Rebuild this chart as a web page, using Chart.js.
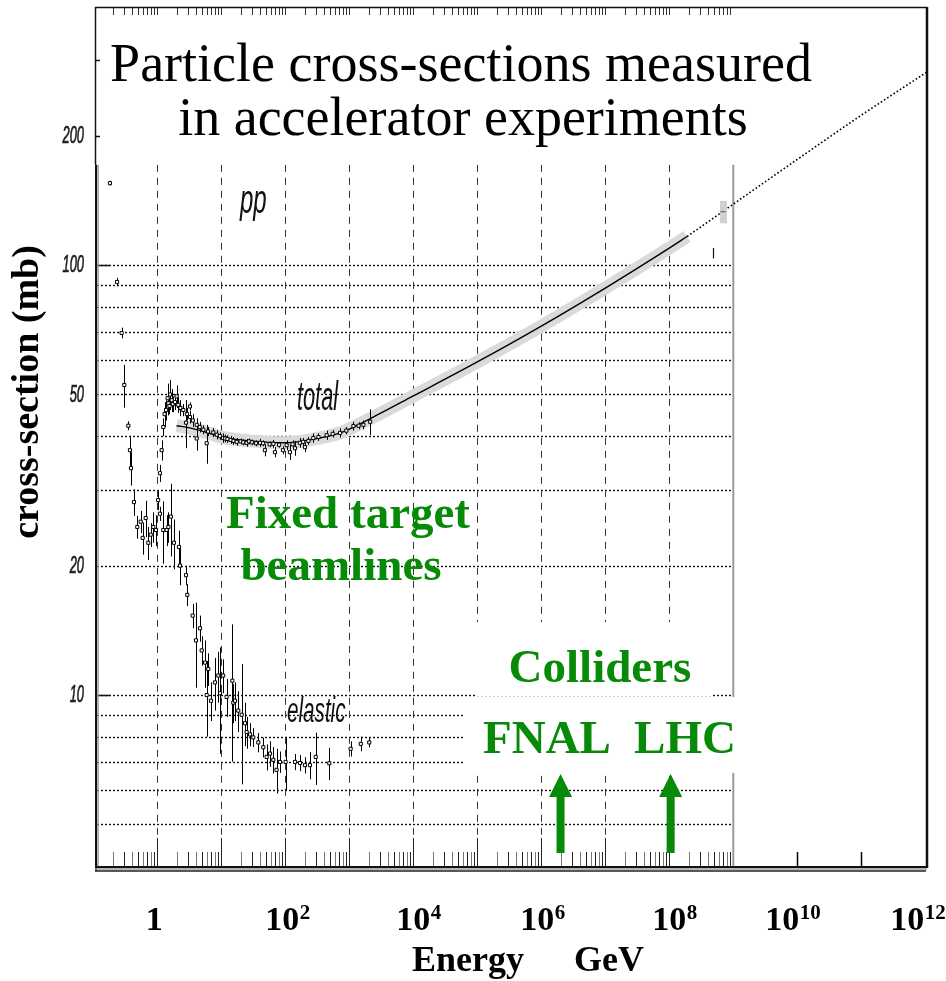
<!DOCTYPE html>
<html>
<head>
<meta charset="utf-8">
<script src="https://cdn.jsdelivr.net/npm/chart.js@4/dist/chart.umd.min.js"></script>
<style>
html,body{margin:0;padding:0;background:#fff;}
canvas{display:block;}
</style>
</head>
<body>
<canvas id="c" width="946" height="981"></canvas>
<script>
// ---------------- DATA ----------------
const titleLines = ["Particle cross-sections measured", "in accelerator experiments"];
const yAxisTitle = "cross-section (mb)";
const xAxisTitleWords = ["Energy", "GeV"];
const xTickExponents = [0, 2, 4, 6, 8, 10, 12];
const yTickValues = [10, 20, 50, 100, 200];
const gridYValues = [5, 6, 7, 8, 9, 10, 20, 30, 40, 50, 60, 70, 80, 90, 100];
const gridXExponents = [0, 1, 2, 3, 4, 5, 6, 7, 8];
const extraTickValues = [1e10, 1e11];

// total cross-section measurements (p_lab GeV, mb, +/- mb)
const totalE =     [1.03, 1.10, 1.17, 1.24, 1.30, 1.37, 1.45, 1.49, 1.55, 1.58, 1.68, 1.75, 1.89, 2.0, 2.13, 2.3, 2.55, 2.81, 2.9, 3.24, 3.24, 3.6, 4.13, 4.13, 4.6, 5.24, 5.91, 6.2, 7.5, 8.5, 9.5, 10.7, 11.5, 12.5, 14, 15.5, 17.4, 20, 22, 24.9, 27, 30, 35, 40.3, 45, 48, 57, 65.1, 69, 80, 92, 105, 118, 130, 142, 169, 190, 203, 230, 274, 330, 443, 550, 717, 900, 1160, 1400, 1660, 2120];
const totalSigma = [28.4, 32.8, 37.1, 42.0, 45.0, 46.0, 49.0, 47.7, 47.0, 50.0, 48.5, 47.5, 48.0, 49.5, 47.3, 46.5, 46.0, 43.0, 45.0, 44.3, 46.9, 43.5, 42.5, 39.5, 42.0, 41.4, 38.5, 41.0, 40.8, 40.3, 40.0, 39.6, 39.5, 39.4, 39.2, 39.0, 38.8, 38.9, 38.7, 38.6, 38.9, 38.7, 38.5, 38.6, 38.5, 37.1, 38.3, 38.4, 36.7, 38.2, 37.1, 38.1, 36.7, 38.3, 37.5, 38.6, 38.8, 37.7, 39.0, 39.6, 39.8, 40.2, 40.5, 40.7, 41.2, 42.2, 42.3, 42.5, 43.2];
const totalErr =   [1.5, 1.5, 2, 2, 3, 2.5, 4, 3, 2, 4, 3, 2, 2, 3, 2, 2, 1.5, 5.5, 1.5, 1.5, 1, 1.5, 1.5, 2.5, 1.2, 1, 4, 1, 1, 1, 0.8, 1, 0.8, 0.8, 0.8, 0.8, 0.8, 0.6, 0.6, 0.8, 0.6, 0.6, 0.6, 0.8, 0.6, 1.2, 0.6, 0.8, 1.0, 0.6, 0.8, 1, 1.5, 0.8, 1.5, 1, 0.8, 1, 0.8, 1, 0.8, 1, 0.8, 1, 0.8, 1, 0.8, 1, 3];

// elastic cross-section measurements (low energies: total = elastic)
const elasticE =     [0.182, 0.235, 0.277, 0.305, 0.353, 0.374, 0.388, 0.432, 0.487, 0.550, 0.591, 0.659, 0.723, 0.789, 0.866, 0.954, 1.10, 1.24, 1.40, 1.49, 1.63, 1.82, 2.18, 2.26, 2.81, 2.94, 3.57, 4.02, 4.65, 4.94, 5.57, 5.91, 6.26, 6.90, 7.97, 8.98, 9.55, 10.7, 12.1, 14.9, 15.4, 16.4, 18.4, 20.8, 23.5, 24.9, 28.1, 31.6, 37.9, 45.3, 51.2, 57.7, 64.9, 73, 82.6, 101, 142, 170, 203, 243, 299, 487, 1050, 1510, 2050];
const elasticSigma = [155, 91.3, 69.5, 52.6, 42.3, 37.1, 33.7, 28.1, 24.6, 25.3, 23.2, 25.8, 22.6, 23.6, 24.6, 24.2, 26.4, 24.2, 24.2, 24.6, 26.0, 22.6, 22.1, 20.0, 19.0, 17.1, 15.3, 13.4, 14.3, 12.7, 11.9, 10.0, 11.5, 9.7, 10.7, 11.1, 10.1, 11.1, 9.9, 10.8, 9.6, 9.7, 9.2, 9.0, 8.6, 8.2, 8.1, 7.97, 7.76, 7.56, 7.18, 7.31, 7.07, 6.7, 6.99, 6.99, 6.99, 6.95, 6.87, 6.87, 7.18, 6.94, 7.5, 7.7, 7.76];
const elasticErr =   [2, 2, 2, 6, 1, 3, 3, 2, 1.5, 1.5, 2, 2.5, 2, 1.5, 2, 2, 1, 4, 2, 2, 5, 3, 2, 2, 1, 1, 1, 3, 1, 1, 1.5, 2, 1, 1, 1.5, 1.5, 2.8, 1, 1, 3.8, 1, 1, 1, 2.8, 1, 0.7, 0.5, 0.4, 0.4, 0.4, 0.5, 0.5, 0.5, 0.8, 0.4, 1.0, 0.3, 0.3, 0.3, 0.5, 1.0, 0.6, 0.3, 0.3, 0.2];

// cosmic-ray estimates
const cosmicE = [4.8e8, 6.9e8];
const cosmicSigma = [106.6, 133];
const cosmicErr = [3, 8];

// fit to total cross-section and its extrapolation
const fitE =     [2.0, 3.2, 5.6, 10, 28, 100, 240, 720, 2100, 1e4, 1e5, 1e6, 1e7, 1e8, 1.9e8];
const fitSigma = [42.3, 41.8, 40.9, 39.8, 39.0, 38.6, 39.2, 40.7, 43.9, 49.6, 59.5, 72.1, 88.4, 109.5, 116.5];
const extrapE =     [1.9e8, 1e10, 1e11, 1.06e12];
const extrapSigma = [116.5, 176, 223, 281];

// colliders
const colliderNames = ["FNAL", "LHC"];
const colliderE = [2.0e6, 1.05e8];

// ---------------- HELPERS ----------------
const pts = (xs, ys) => xs.map((x, i) => ({ x: x, y: ys[i] }));
const SERIF = '"Liberation Serif", "Times New Roman", serif';
const SANS = '"Liberation Sans", Arial, sans-serif';
const GREEN = '#078a07';

function line(ctx, x1, y1, x2, y2) { ctx.beginPath(); ctx.moveTo(x1, y1); ctx.lineTo(x2, y2); ctx.stroke(); }
function squashText(ctx, text, x, y, font, sx, align, color, stroke) {
  ctx.save(); ctx.translate(x, y); ctx.scale(sx, 1);
  ctx.font = font; ctx.textAlign = align; ctx.fillStyle = color || '#111';
  ctx.fillText(text, 0, 0);
  if (stroke) { ctx.strokeStyle = color || '#111'; ctx.lineWidth = stroke; ctx.strokeText(text, 0, 0); }
  ctx.restore();
}

// error bars drawn just before each dataset's markers
const errorBars = {
  id: 'errorBars',
  beforeDatasetDraw(chart, args) {
    const ds = chart.data.datasets[args.index];
    if (!ds.errors) return;
    const ctx = chart.ctx, xs = chart.scales.x, ys = chart.scales.y, a = chart.chartArea;
    ctx.save();
    ctx.beginPath(); ctx.rect(a.left, a.top, a.right - a.left, a.bottom - a.top); ctx.clip();
    ds.data.forEach((p, i) => {
      const e = ds.errors[i];
      if (!e) return;
      ctx.strokeStyle = Array.isArray(ds.errorColor) ? ds.errorColor[i] : (ds.errorColor || '#000');
      ctx.lineWidth = Array.isArray(ds.errorWidth) ? ds.errorWidth[i] : (ds.errorWidth || 1);
      const x = Math.round(xs.getPixelForValue(p.x)) + 0.5;
      line(ctx, x, ys.getPixelForValue(p.y - e), x, ys.getPixelForValue(p.y + e));
    });
    ctx.restore();
  }
};

// frame, grid and ticks (under the data)
const INNER_MAX_E = 1e9;      // right edge of the measured-data frame
const INNER_MAX_SIGMA = 171;  // top of the measured-data frame
const framePlugin = {
  id: 'framePlugin',
  beforeDatasetsDraw(chart) {
    const ctx = chart.ctx, a = chart.chartArea, xs = chart.scales.x, ys = chart.scales.y;
    const innerRight = xs.getPixelForValue(INNER_MAX_E);
    const innerTop = ys.getPixelForValue(INNER_MAX_SIGMA);
    ctx.save();
    // horizontal dotted grid
    ctx.strokeStyle = '#111'; ctx.lineWidth = 1.4; ctx.setLineDash([2, 2]);
    gridYValues.forEach(v => {
      const y = Math.round(ys.getPixelForValue(v)) + 0.5;
      line(ctx, a.left + 2, y, innerRight, y);
    });
    // vertical dashed grid
    ctx.strokeStyle = '#333'; ctx.lineWidth = 1; ctx.setLineDash([7, 6]);
    gridXExponents.forEach(k => {
      const x = Math.round(xs.getPixelForValue(Math.pow(10, k))) + 0.5;
      line(ctx, x, innerTop, x, a.bottom - 30);
    });
    ctx.setLineDash([]);
    // inner right edge
    ctx.strokeStyle = '#9a9a9a'; ctx.lineWidth = 2;
    line(ctx, innerRight, innerTop, innerRight, a.bottom);
    // log ticks, bottom (up) and top (down)
    ctx.lineWidth = 1;
    for (let k = -1; k <= 8; k++) {
      for (let n = 1; n <= 9; n++) {
        const v = n * Math.pow(10, k);
        if (v < xs.min || v > INNER_MAX_E) continue;
        const x = Math.round(xs.getPixelForValue(v)) + 0.5;
        ctx.strokeStyle = (n % 2) ? '#222' : '#777';
        line(ctx, x, a.bottom, x, a.bottom - (n === 1 ? 30 : 16));
        ctx.strokeStyle = '#333';
        line(ctx, x, a.top, x, a.top + 8);
      }
    }
    ctx.strokeStyle = '#000'; ctx.lineWidth = 1.5;
    extraTickValues.forEach(v => {
      const x = Math.round(xs.getPixelForValue(v)) + 0.5;
      line(ctx, x, a.bottom, x, a.bottom - 16);
    });
    // left ticks
    ctx.strokeStyle = '#111'; ctx.lineWidth = 1.5;
    [10, 100].forEach(v => { const y = Math.round(ys.getPixelForValue(v)) + 0.5; line(ctx, a.left, y, a.left + 15, y); });
    [200, 300].forEach(v => { const y = Math.round(ys.getPixelForValue(v)) + 0.5; line(ctx, a.left, y, a.left + 5, y); });
    // outer frame
    ctx.strokeStyle = '#111'; ctx.lineWidth = 1.5;
    line(ctx, a.left, a.top + 0.5, a.right, a.top + 0.5);
    line(ctx, a.left + 0.5, a.top, a.left + 0.5, innerTop);
    ctx.lineWidth = 2.5;
    line(ctx, a.right, a.top, a.right, a.bottom);
    // thick data frame left and bottom
    ctx.strokeStyle = '#111'; ctx.lineWidth = 2;
    line(ctx, a.left + 1, innerTop, a.left + 1, a.bottom + 3);
    ctx.strokeStyle = '#999'; ctx.lineWidth = 1.5;
    line(ctx, a.left + 3, innerTop, a.left + 3, a.bottom);
    ctx.strokeStyle = '#111'; ctx.lineWidth = 2;
    line(ctx, a.left, a.bottom - 1, a.right, a.bottom - 1);
    ctx.strokeStyle = '#999'; ctx.lineWidth = 1.5;
    line(ctx, a.left, a.bottom + 1, a.right, a.bottom + 1);
    ctx.strokeStyle = '#222'; ctx.lineWidth = 1.5;
    line(ctx, a.left, a.bottom + 3, a.right - 1, a.bottom + 3);
    ctx.restore();
  },
  afterDatasetsDraw(chart) {
    const ctx = chart.ctx, a = chart.chartArea, xs = chart.scales.x, ys = chart.scales.y;
    ctx.save();
    // white label boxes for collider annotations
    ctx.fillStyle = '#fff';
    ctx.fillRect(475, 622, 238, 74);
    ctx.fillRect(463, 697, 280, 76);

    // title
    ctx.fillStyle = '#000'; ctx.textAlign = 'center'; ctx.textBaseline = 'alphabetic';
    ctx.font = '54px ' + SERIF;
    ctx.fillText(titleLines[0], 461, 81);
    ctx.fillText(titleLines[1], 463, 135);

    // italic plot labels
    squashText(ctx, 'pp', 240, 213, 'italic 40px ' + SANS, 0.6, 'left', '#111');
    squashText(ctx, 'total', 297, 410, 'italic 41px ' + SANS, 0.53, 'left', '#111');
    squashText(ctx, 'elastic', 287, 722, 'italic 35px ' + SANS, 0.59, 'left', '#111');

    // y tick labels
    ctx.textBaseline = 'middle';
    yTickValues.forEach(v => {
      squashText(ctx, String(v), 84, ys.getPixelForValue(v) + 1, 'italic 23px ' + SANS, 0.56, 'right', '#1a1a1a', 0.7);
    });
    ctx.textBaseline = 'alphabetic';

    // x tick labels with superscripts
    const xShift = [-3, -3, 0, -4, 0, -15, -18];
    ctx.fillStyle = '#000';
    xTickExponents.forEach((k, i) => {
      const cx = xs.getPixelForValue(Math.pow(10, k)) + xShift[i];
      if (k === 0) {
        ctx.font = 'bold 34px ' + SERIF; ctx.textAlign = 'center';
        ctx.fillText('1', cx, 930);
        return;
      }
      ctx.font = 'bold 34px ' + SERIF; ctx.textAlign = 'left';
      const w = ctx.measureText('10').width;
      ctx.fillText('10', cx - w / 2, 930);
      ctx.font = 'bold 21px ' + SERIF;
      ctx.fillText(String(k), cx + w / 2 + 0.5, 919);
    });

    // axis titles
    ctx.font = 'bold 36px ' + SERIF; ctx.textAlign = 'left';
    ctx.fillText(xAxisTitleWords[0], 412, 971);
    ctx.fillText(xAxisTitleWords[1], 574, 971);
    ctx.save();
    ctx.translate(38, 392); ctx.rotate(-Math.PI / 2);
    ctx.font = 'bold 38px ' + SERIF; ctx.textAlign = 'center';
    ctx.fillText(yAxisTitle, 0, 0);
    ctx.restore();

    // green annotations
    ctx.fillStyle = GREEN; ctx.font = 'bold 47px ' + SERIF; ctx.textAlign = 'center';
    ctx.fillText('Fixed target', 348, 528);
    ctx.fillText('beamlines', 341, 580);
    ctx.fillText('Colliders', 600, 682);
    ctx.fillText(colliderNames[0], 547, 753);
    ctx.fillText(colliderNames[1], 685, 753);

    // arrows at collider energies
    colliderE.forEach(e => {
      const x = xs.getPixelForValue(e);
      const tip = 774, base = 853, headH = 23, headW = 23, shaft = 8;
      ctx.beginPath();
      ctx.moveTo(x, tip);
      ctx.lineTo(x + headW / 2, tip + headH);
      ctx.lineTo(x + shaft / 2, tip + headH);
      ctx.lineTo(x + shaft / 2, base);
      ctx.lineTo(x - shaft / 2, base);
      ctx.lineTo(x - shaft / 2, tip + headH);
      ctx.lineTo(x - headW / 2, tip + headH);
      ctx.closePath();
      ctx.fill();
    });
    ctx.restore();
  }
};

// ---------------- CHART ----------------
const chart = new Chart(document.getElementById('c'), {
  type: 'scatter',
  data: {
    datasets: [
      { label: 'total', data: pts(totalE, totalSigma), errors: totalErr,
        pointStyle: 'rect', pointRadius: 2.2, borderWidth: 1, borderColor: '#000', backgroundColor: '#fff', order: 1 },
      { label: 'elastic', data: pts(elasticE, elasticSigma), errors: elasticErr,
        pointStyle: 'rect', pointRadius: 2.2, borderWidth: 1, borderColor: '#000', backgroundColor: '#fff', order: 2 },
      { label: 'cosmic', data: pts(cosmicE, cosmicSigma), errors: cosmicErr,
        errorColor: ['#111', '#d0d0d0'], errorWidth: [1.2, 7],
        pointStyle: 'line', pointRadius: [0, 2.5], borderWidth: 1, borderColor: '#555', order: 1 },
      { label: 'fit', data: pts(fitE, fitSigma), showLine: true, pointRadius: 0,
        borderColor: '#000', borderWidth: 1.4, cubicInterpolationMode: 'monotone', order: 4 },
      { label: 'fit band', data: pts(fitE, fitSigma), showLine: true, pointRadius: 0,
        borderColor: '#dadada', borderWidth: 13, borderCapStyle: 'butt', cubicInterpolationMode: 'monotone', order: 6 },
      { label: 'extrapolation', data: pts(extrapE, extrapSigma), showLine: true, pointRadius: 0,
        borderColor: '#000', borderWidth: 1.6, borderDash: [1.6, 2.2], cubicInterpolationMode: 'monotone', order: 4 }
    ]
  },
  options: {
    responsive: false,
    devicePixelRatio: 1,
    animation: false,
    layout: { padding: { left: 95, right: 19, top: 7, bottom: 113 } },
    plugins: { legend: { display: false }, tooltip: { enabled: false } },
    scales: {
      x: { type: 'logarithmic', min: 0.1063, max: 1.064e12, display: false },
      y: { type: 'logarithmic', min: 3.961, max: 398.1, display: false }
    }
  },
  plugins: [errorBars, framePlugin]
});
</script>
</body>
</html>
